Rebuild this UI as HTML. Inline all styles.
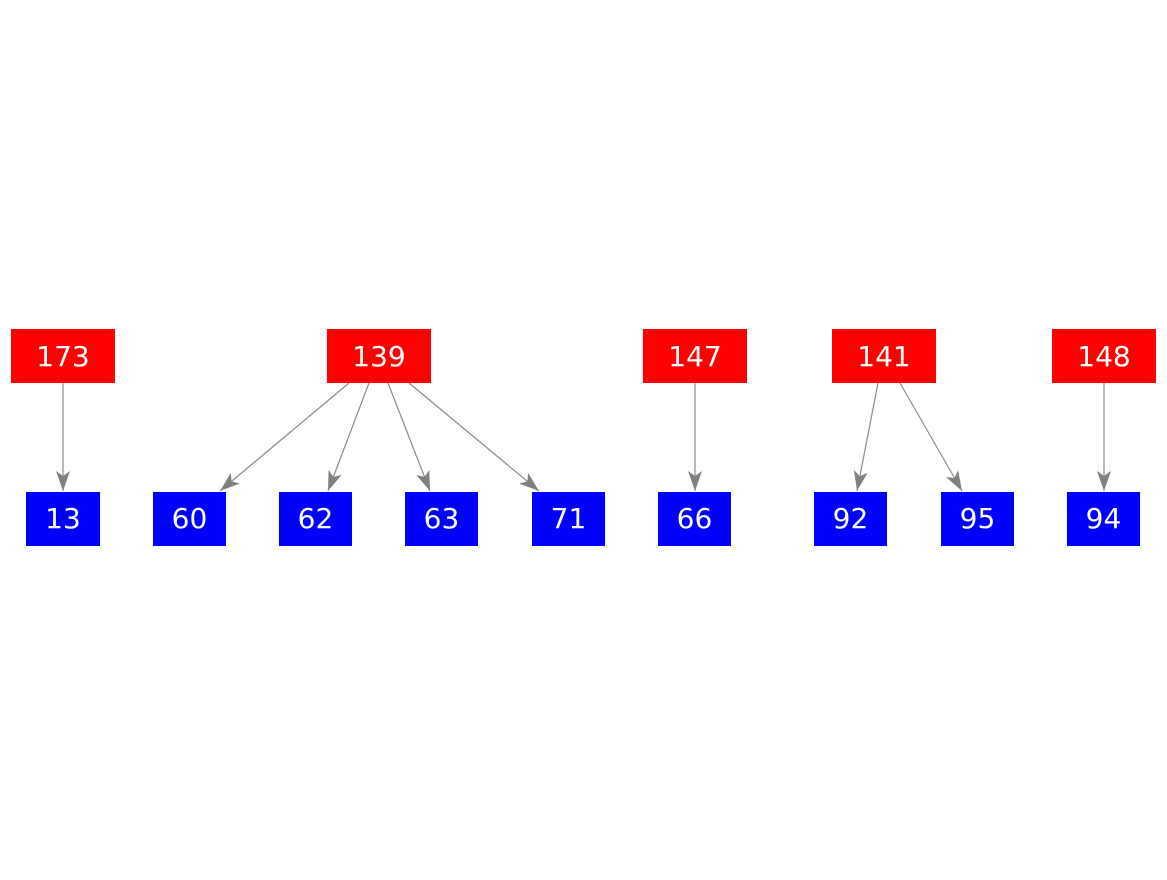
<!DOCTYPE html>
<html><head><style>html,body{margin:0;padding:0;background:#fff}</style></head><body>
<svg width="1167" height="875" xmlns="http://www.w3.org/2000/svg">
<defs>
<marker id="a" viewBox="0 0 20 14" refX="20" refY="7" markerWidth="20" markerHeight="14" markerUnits="userSpaceOnUse" orient="auto">
<path d="M0,0 L20,7 L0,14 L5,7 Z" fill="#808080"/>
</marker>
</defs>
<g stroke="#8a8a8a" stroke-width="1.2" marker-end="url(#a)">
<line x1="63" y1="383" x2="63" y2="491"/>
<line x1="349" y1="383" x2="220" y2="491"/>
<line x1="369" y1="383" x2="328" y2="491"/>
<line x1="388" y1="383" x2="430" y2="491"/>
<line x1="409" y1="383" x2="539" y2="491"/>
<line x1="695" y1="383" x2="695" y2="491"/>
<line x1="878" y1="383" x2="857" y2="491"/>
<line x1="900" y1="383" x2="962" y2="491"/>
<line x1="1104" y1="383" x2="1104" y2="491"/>
</g>
<g fill="#ff0000">
<rect x="11" y="329" width="104" height="54"/>
<rect x="327" y="329" width="104" height="54"/>
<rect x="643" y="329" width="104" height="54"/>
<rect x="832" y="329" width="104" height="54"/>
<rect x="1052" y="329" width="104" height="54"/>
</g>
<g fill="#0000ff">
<rect x="26" y="492" width="74" height="54"/>
<rect x="153" y="492" width="73" height="54"/>
<rect x="279" y="492" width="73" height="54"/>
<rect x="405" y="492" width="73" height="54"/>
<rect x="532" y="492" width="73" height="54"/>
<rect x="658" y="492" width="73" height="54"/>
<rect x="814" y="492" width="73" height="54"/>
<rect x="941" y="492" width="73" height="54"/>
<rect x="1067" y="492" width="73" height="54"/>
</g>
<g fill="#fff" text-anchor="middle" style="font-family:'DejaVu Sans',sans-serif;font-size:28px">
<text x="63" y="366">173</text>
<text x="379" y="366">139</text>
<text x="695" y="366">147</text>
<text x="884" y="366">141</text>
<text x="1104" y="366">148</text>
<text x="63" y="528">13</text>
<text x="189.5" y="528">60</text>
<text x="315.5" y="528">62</text>
<text x="441.5" y="528">63</text>
<text x="568.5" y="528">71</text>
<text x="694.5" y="528">66</text>
<text x="850.5" y="528">92</text>
<text x="977.5" y="528">95</text>
<text x="1103.5" y="528">94</text>
</g>
</svg>
</body></html>
